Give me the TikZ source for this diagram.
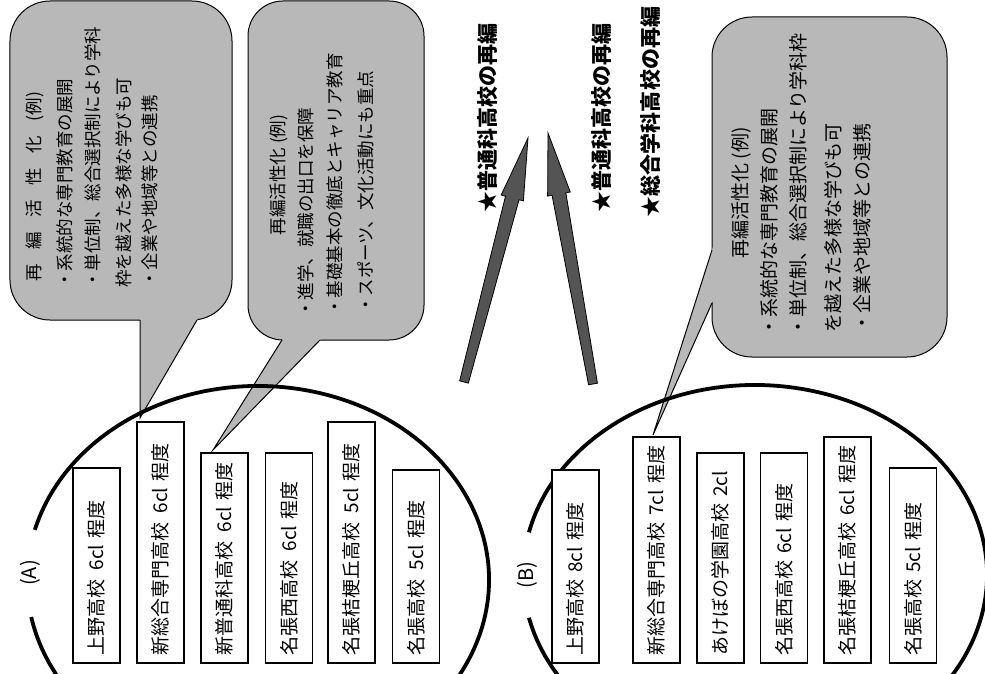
\documentclass[tikz,border=0pt]{standalone}
\usepackage{fontspec}
\setmainfont{Noto Sans CJK JP}
\usetikzlibrary{calc}
\definecolor{callgray}{gray}{0.72}
\definecolor{arrgray}{gray}{0.33}
\newcommand\gp{\hspace{0.45em}}
\begin{document}
\begin{tikzpicture}[x=1bp,y=-1bp,
 schoolbox/.style={draw,line width=1.1bp,fill=white,rotate=90,minimum height=47bp,inner xsep=8bp,inner ysep=0pt,align=left,font=\fontsize{19bp}{22bp}\selectfont},
 callout/.style={draw,line width=1bp,fill=callgray,inner sep=0pt},
 pointerline/.style={line width=1bp,line join=miter},
 calltext/.style={rotate=90,anchor=west,inner sep=0pt,font=\fontsize{17.5bp}{20bp}\selectfont},
 calltextB/.style={calltext,font=\fontsize{19bp}{22bp}\selectfont},
 calltitle/.style={rotate=90,inner sep=0pt},
 ring/.style={line width=3.8bp},
 starlabel/.style={rotate=90,inner sep=0pt,font=\fontsize{21bp}{24bp}\selectfont\bfseries},
 grouplabel/.style={rotate=90,inner sep=0pt,font=\fontsize{20bp}{24bp}\selectfont},
 blockarrow/.style={fill=arrgray,draw=black,line width=0.8bp,line join=miter}]
\useasboundingbox (0,0) rectangle (985,674);
\clip (0,0) rectangle (985,674);
\fill[white] (0,0) rectangle (985,674);

% ---------- callouts ----------
\node[callout,rounded corners=40bp,minimum width=222bp,minimum height=319bp] (calA1) at (121,160.5) {};
\node[callout,rounded corners=35bp,minimum width=176bp,minimum height=339bp] (calA2) at (336,170.5) {};
\node[callout,rounded corners=40bp,minimum width=235bp,minimum height=340bp] (calB) at (829.5,187) {};

% pointers
\coordinate (pA1a) at (140,320); \coordinate (pA1b) at (197,320); \coordinate (pA1t) at (140,418);
\coordinate (pA2a) at (282,340); \coordinate (pA2b) at (320,340); \coordinate (pA2t) at (213,450);
\coordinate (pBa) at (712,250);  \coordinate (pBb) at (712,303);  \coordinate (pBt) at (653,435);
\foreach \p in {pA1,pA2,pB}{
  \fill[callgray] ($(\p t)!1.06!(\p a)$) -- (\p t) -- ($(\p t)!1.06!(\p b)$) -- cycle;
  \draw[pointerline] (\p a) -- (\p t) -- (\p b);
}

% callout texts A1
\node[calltitle,anchor=west,font=\fontsize{17.5bp}{20bp}\selectfont] (a1t0) at (35,282) {\makebox[190bp][s]{再\hfill 編\hfill 活\hfill 性\hfill 化\hfill (例)}};
\node[calltext] (a1t1) at (65,289) {・系統的な専門教育の展開};
\node[calltext] (a1t2) at (93,289) {・単位制、総合選択制により学科};
\node[calltext] (a1t3) at (124,288) {枠を越えた多様な学びも可};
\node[calltext] (a1t4) at (150,288) {・企業や地域等との連携};
% callout texts A2
\node[calltitle,font=\fontsize{17.5bp}{20bp}\selectfont] (a2t0) at (279,175) {再編活性化 (例)};
\node[calltext] (a2t1) at (306,318) {・進学、就職の出口を保障};
\node[calltext] (a2t2) at (335,316) {・基礎基本の徹底とキャリア教育};
\node[calltext] (a2t3) at (366,314) {・スポーツ、文化活動にも重点};
% callout texts B
\node[calltitle,font=\fontsize{19bp}{22bp}\selectfont] (bt0) at (741,193) {再編活性化 (例)};
\node[calltextB] (bt1) at (769,337) {・系統的な専門教育の展開};
\node[calltextB] (bt2) at (798,337) {・単位制、総合選択制により学科枠};
\node[calltextB] (bt3) at (833,333) {を越えた多様な学びも可};
\node[calltextB] (bt4) at (862,333) {・企業や地域等との連携};

% ---------- ellipses ----------
\coordinate (eA) at (258,580);
\coordinate (eB) at (755,575);
\draw[ring] (eA) ++(195:231 and 194) arc[start angle=195,end angle=529,x radius=231,y radius=194];
\draw[ring] (eB) ++(193:232 and 190) arc[start angle=193,end angle=527,x radius=232,y radius=190];
\node[grouplabel] (labA) at (30,573) {(A)};
\node[grouplabel] (labB) at (527,575) {(B)};

% ---------- school boxes ----------
\node[schoolbox,text width=179bp] (a1) at (96.5,565.5) {上野高校\gp 6cl 程度};
\node[schoolbox,text width=225bp] (a2) at (160.5,542.5) {新総合専門高校\gp 6cl 程度};
\node[schoolbox,text width=194bp] (a3) at (224.5,558) {新普通科高校\gp 6cl 程度};
\node[schoolbox,text width=194bp] (a4) at (289,558) {名張西高校\gp 6cl 程度};
\node[schoolbox,text width=225bp] (a5) at (351.5,542.5) {名張桔梗丘高校\gp 5cl 程度};
\node[schoolbox,text width=177bp] (a6) at (416,566.5) {名張高校\gp 5cl 程度};

\node[schoolbox,text width=177bp] (b1) at (575.5,566.5) {上野高校 8cl 程度};
\node[schoolbox,text width=210bp] (b2) at (656.5,550) {新総合専門高校 7cl 程度};
\node[schoolbox,text width=194bp] (b3) at (720.5,558) {あけぼの学園高校 2cl};
\node[schoolbox,text width=194bp] (b4) at (784,558) {名張西高校 6cl 程度};
\node[schoolbox,text width=210bp] (b5) at (847.5,550) {名張桔梗丘高校 6cl 程度};
\node[schoolbox,text width=179bp] (b6) at (913,565.5) {名張高校 5cl 程度};

% ---------- arrows ----------
\coordinate (t1) at (464,382); \coordinate (h1) at (528,138);
\coordinate (t2) at (593,384); \coordinate (h2) at (548,133);
\foreach \i in {1,2}{
  \coordinate (n\i) at ($(h\i)!62bp!(t\i)$);
  \filldraw[blockarrow] ($(t\i)!4.5bp!90:(h\i)$) -- ($(n\i)!7bp!90:(h\i)$) -- ($(n\i)!11.5bp!90:(h\i)$) -- (h\i)
     -- ($(n\i)!11.5bp!-90:(h\i)$) -- ($(n\i)!7bp!-90:(h\i)$) -- ($(t\i)!4.5bp!-90:(h\i)$) -- cycle;
}

% ---------- star labels ----------
\node[starlabel] (s1) at (488,118) {★普通科高校の再編};
\node[starlabel] (s2) at (602,118) {★普通科高校の再編};
\node[starlabel] (s3) at (650,112) {★総合学科高校の再編};
\end{tikzpicture}
\end{document}
